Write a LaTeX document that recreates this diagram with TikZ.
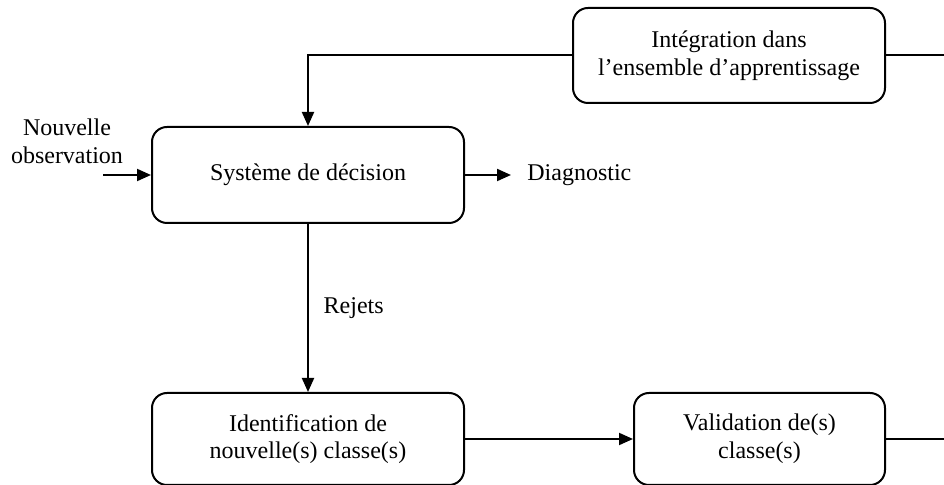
\documentclass[tikz,border=0pt]{standalone}
\usepackage{fontspec}
\setmainfont{Liberation Serif}
\usepackage{tikz}
\usetikzlibrary{arrows.meta, positioning, calc}

\begin{document}
\begin{tikzpicture}[
    x=0.5pt, y=0.5pt,
    node distance=84pt,
    block/.style={rectangle, draw, line width=1pt, rounded corners=7.5pt, minimum width=156pt, minimum height=46pt, align=center, font=\fontsize{12}{13.8}\selectfont},
    arrow/.style={-{Triangle[length=7pt, width=6pt]}, line width=1pt},
    link/.style={line width=1pt},
    txt/.style={font=\fontsize{12}{13.8}\selectfont, align=center}
]
\useasboundingbox (0,0) rectangle (944,-485);

% Decision loop
\node[block, minimum height=48pt] (sys) at (308,-175) {Système de décision};
\node[block, below=of sys] (ident) {Identification de\\nouvelle(s) classe(s)};
\node[block, minimum width=125.5pt, right=of ident] (valid) {Validation de(s)\\classe(s)};
\node[block, minimum height=47.5pt] (integ) at (729,-55.5) {Intégration dans\\l’ensemble d’apprentissage};

% Input and output
\node[txt] (obs) at (67,-141) {Nouvelle\\observation};
\coordinate (obsin) at (103,-175);
\node[txt, inner sep=0pt, right=31pt of sys] (diag) {Diagnostic};

% Right border (loop continues off the page)
\coordinate (edge) at (944,0);

\draw[arrow] (obsin) -- (sys);
\draw[arrow, shorten >=8pt] (sys) -- (diag);
\draw[arrow] (sys) -- node[txt, right=4pt] (rej) {Rejets} (ident);
\draw[arrow] (ident) -- (valid);
\draw[link] (valid.east) -- (valid.east -| edge);
\draw[link] (integ.east) -- (integ.east -| edge);
\draw[arrow] (integ.west) -| (sys.north);
\end{tikzpicture}
\end{document}
